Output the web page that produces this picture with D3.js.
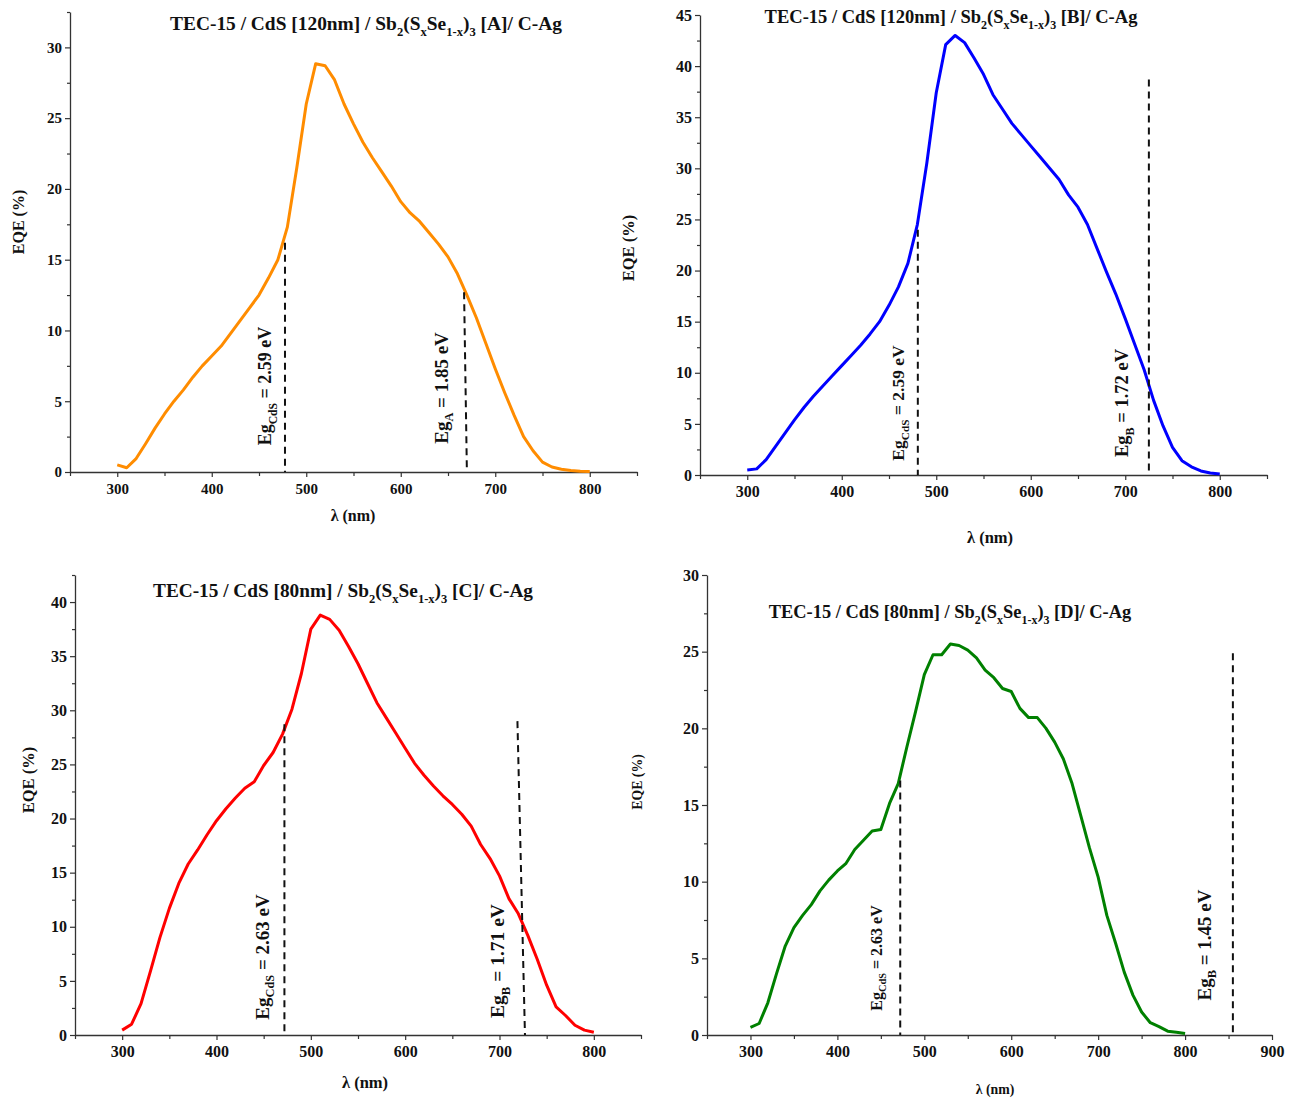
<!DOCTYPE html>
<html><head><meta charset="utf-8">
<script src="https://cdn.jsdelivr.net/npm/d3@7"></script>
<style>
body{margin:0;background:#fff}
svg{display:block}
text{font-family:"Liberation Serif","Times New Roman",serif;font-weight:bold;fill:#111}
</style>
</head><body><svg id="c" width="1296" height="1099"></svg>
<script>
// ---------------- DATA ----------------
const wavelengths = [300,310,320,330,340,350,360,370,380,390,400,410,420,430,440,450,460,470,480,490,500,510,520,530,540,550,560,570,580,590,600,610,620,630,640,650,660,670,680,690,700,710,720,730,740,750,760,770,780,790,800];

const eqeA = [0.5,0.3,0.95,2.0,3.1,4.1,5.0,5.8,6.7,7.5,8.2,8.9,9.8,10.7,11.6,12.5,13.7,15.0,17.3,21.5,26.0,28.85,28.7,27.7,26.0,24.6,23.3,22.2,21.2,20.2,19.1,18.3,17.7,16.9,16.1,15.2,14.0,12.5,10.9,9.1,7.3,5.6,4.0,2.5,1.5,0.7,0.35,0.2,0.1,0.05,0.03];
const eqeB = [0.5,0.6,1.5,2.8,4.1,5.4,6.6,7.7,8.7,9.7,10.7,11.7,12.7,13.8,15.0,16.6,18.4,20.7,24.5,30.5,37.4,42.1,43.0,42.3,40.8,39.2,37.2,35.8,34.4,33.3,32.2,31.1,30.0,28.9,27.4,26.2,24.5,22.2,19.9,17.7,15.3,12.8,10.3,7.3,4.8,2.7,1.4,0.8,0.4,0.2,0.1];
const eqeC = [0.45,1.0,2.9,5.9,9.0,11.7,14.0,15.8,17.1,18.5,19.8,20.9,21.9,22.8,23.4,24.9,26.1,27.8,30.1,33.4,37.5,38.8,38.4,37.4,35.9,34.3,32.5,30.7,29.3,27.9,26.5,25.1,24.0,23.0,22.1,21.3,20.4,19.3,17.6,16.3,14.7,12.6,11.2,9.2,7.0,4.6,2.6,1.8,0.9,0.45,0.25];
const eqeD = [0.5,0.75,2.1,4.0,5.8,7.0,7.8,8.5,9.4,10.1,10.7,11.2,12.1,12.7,13.3,13.4,15.1,16.4,18.8,21.1,23.5,24.8,24.8,25.5,25.4,25.1,24.6,23.8,23.3,22.6,22.4,21.3,20.7,20.7,20.0,19.1,18.0,16.4,14.3,12.2,10.3,7.8,6.0,4.1,2.6,1.5,0.8,0.55,0.25,0.18,0.1];

const xTicks8 = [300,400,500,600,700,800];
const xTicks9 = [300,400,500,600,700,800,900];
const yTicksA = [0,5,10,15,20,25,30];
const yTicksB = [0,5,10,15,20,25,30,35,40,45];
const yTicksC = [0,5,10,15,20,25,30,35,40];
const yTicksD = [0,5,10,15,20,25,30];

const titleA = [["TEC-15 / CdS [120nm] / Sb",0],["2",1],["(S",0],["x",1],["Se",0],["1-x",1],[")",0],["3",1],[" [A]/ C-Ag",0]];
const titleB = [["TEC-15 / CdS [120nm] / Sb",0],["2",1],["(S",0],["x",1],["Se",0],["1-x",1],[")",0],["3",1],[" [B]/ C-Ag",0]];
const titleC = [["TEC-15 / CdS [80nm] / Sb",0],["2",1],["(S",0],["x",1],["Se",0],["1-x",1],[")",0],["3",1],[" [C]/ C-Ag",0]];
const titleD = [["TEC-15 / CdS [80nm] / Sb",0],["2",1],["(S",0],["x",1],["Se",0],["1-x",1],[")",0],["3",1],[" [D]/ C-Ag",0]];

// band-gap markers: wavelength at top / bottom, EQE at top
const gapsA = [{wTop:477.5,wBot:477.5,top:16.2,label:[["Eg",0],["CdS",1],[" = 2.59 eV",0]]},
               {wTop:667,wBot:670,top:12.7,label:[["Eg",0],["A",1],[" = 1.85 eV",0]]}];
const gapsB = [{wTop:480.5,wBot:480.5,top:24.0,label:[["Eg",0],["CdS",1],[" = 2.59 eV",0]]},
               {wTop:725,wBot:725,top:38.7,label:[["Eg",0],["B",1],[" = 1.72 eV",0]]}];
const gapsC = [{wTop:472,wBot:472,top:28.7,label:[["Eg",0],["CdS",1],[" = 2.63 eV",0]]},
               {wTop:719,wBot:727,top:29.0,label:[["Eg",0],["B",1],[" = 1.71 eV",0]]}];
const gapsD = [{wTop:472.3,wBot:472.3,top:16.6,label:[["Eg",0],["CdS",1],[" = 2.63 eV",0]]},
               {wTop:855,wBot:855,top:24.9,label:[["Eg",0],["B",1],[" = 1.45 eV",0]]}];

// ---------------- LAYOUT ----------------
const panels = [
 {vals:eqeA,color:"#FF8C00",xl:70,xr:637,yb:472,yt:12,xd:[250,850],yd:[0,32.5],xt:xTicks8,yt_:yTicksA,
  title:titleA,tx:366,ty:30,tfs:19.4,ylx:18,yly:222,xlx:353,xly:521,afs:16,tickfs:15,
  gaps:gapsA,glab:[{x:265,y:386,fs:18},{x:441,y:388,fs:19}]},
 {vals:eqeB,color:"#0000FF",xl:700,xr:1267,yb:475,yt:15,xd:[250,850],yd:[0,45],xt:xTicks8,yt_:yTicksB,
  title:titleB,tx:951,ty:23,tfs:18.5,ylx:628,yly:248,xlx:990,xly:543,afs:16.5,tickfs:16,
  gaps:gapsB,glab:[{x:898,y:403,fs:17.5},{x:1122,y:403,fs:18.5}]},
 {vals:eqeC,color:"#FF0000",xl:75,xr:641,yb:1035,yt:575,xd:[250,850],yd:[0,42.5],xt:xTicks8,yt_:yTicksC,
  title:titleC,tx:343,ty:597,tfs:19.3,ylx:28,yly:780,xlx:365,xly:1088,afs:16.5,tickfs:16,
  gaps:gapsC,glab:[{x:262,y:957,fs:19},{x:497,y:961,fs:19.5}]},
 {vals:eqeD,color:"#008000",xl:707,xr:1272,yb:1035,yt:575,xd:[250,900],yd:[0,30],xt:xTicks9,yt_:yTicksD,
  title:titleD,tx:950,ty:618,tfs:18.4,ylx:637,yly:782,xlx:995,xly:1094,afs:13.8,tickfs:16,
  gaps:gapsD,glab:[{x:876,y:958,fs:16},{x:1204,y:945,fs:19}]}
];

const svg = d3.select("#c");

function addParts(text, parts, fs){
  let sub=false;
  parts.forEach(([t,s])=>{
    const ts=text.append("tspan").text(t);
    if(s && !sub){ts.attr("dy",fs*0.3).attr("font-size",fs*0.65);sub=true;}
    else if(s && sub){ts.attr("font-size",fs*0.65);}
    else if(!s && sub){ts.attr("dy",-fs*0.3);sub=false;}
  });
}

panels.forEach(p=>{
  const x = d3.scaleLinear().domain(p.xd).range([p.xl,p.xr]);
  const y = d3.scaleLinear().domain(p.yd).range([p.yb,p.yt]);
  const g = svg.append("g");

  // minor ticks
  const xMinor = d3.range(p.xd[0],p.xd[1]+1,50).filter(v=>!p.xt.includes(v));
  const yMinor = d3.range(p.yd[0]+2.5,p.yd[1]+0.01,5);
  g.append("g").attr("transform",`translate(0,${p.yb})`)
    .call(d3.axisBottom(x).tickValues(xMinor).tickSize(4).tickFormat(""))
    .call(a=>a.select(".domain").remove());
  g.append("g").attr("transform",`translate(${p.xl},0)`)
    .call(d3.axisLeft(y).tickValues(yMinor).tickSize(3).tickFormat(""))
    .call(a=>a.select(".domain").remove());

  const xa = g.append("g").attr("transform",`translate(0,${p.yb})`)
    .call(d3.axisBottom(x).tickValues(p.xt).tickSize(5).tickSizeOuter(0).tickPadding(6));
  const ya = g.append("g").attr("transform",`translate(${p.xl},0)`)
    .call(d3.axisLeft(y).tickValues(p.yt_).tickSize(5).tickSizeOuter(0).tickPadding(3));
  [xa,ya].forEach(a=>{
    a.selectAll("text").attr("font-size",p.tickfs).attr("font-family","Liberation Serif, serif").attr("font-weight","bold").attr("fill","#111");
  });
  g.selectAll(".domain").attr("stroke","#333").attr("stroke-width",1.3);
  g.selectAll(".tick line").attr("stroke","#333").attr("stroke-width",1.2);

  // curve
  const line = d3.line().x((d,i)=>x(wavelengths[i])).y(d=>y(d));
  g.append("path").datum(p.vals).attr("d",line)
    .attr("fill","none").attr("stroke",p.color).attr("stroke-width",3).attr("stroke-linejoin","round");

  // band-gap dashed lines + labels
  p.gaps.forEach((gp,i)=>{
    g.append("line").attr("x1",x(gp.wTop)).attr("y1",y(gp.top)).attr("x2",x(gp.wBot)).attr("y2",y(0))
      .attr("stroke","#111").attr("stroke-width",2).attr("stroke-dasharray","7,5");
    const L = p.glab[i];
    const t = g.append("text").attr("transform",`translate(${L.x},${L.y}) rotate(-90)`)
      .attr("text-anchor","middle").attr("dy","0.35em").attr("font-size",L.fs);
    addParts(t, gp.label, L.fs);
  });

  // title
  const tt = g.append("text").attr("x",p.tx).attr("y",p.ty).attr("text-anchor","middle").attr("font-size",p.tfs);
  addParts(tt,p.title,p.tfs);

  // axis labels
  g.append("text").attr("transform",`translate(${p.ylx},${p.yly}) rotate(-90)`).attr("text-anchor","middle")
    .attr("dy","0.35em").attr("font-size",p.afs).text("EQE (%)");
  g.append("text").attr("x",p.xlx).attr("y",p.xly).attr("text-anchor","middle").attr("font-size",p.afs).text("λ (nm)");
});
</script></body></html>
